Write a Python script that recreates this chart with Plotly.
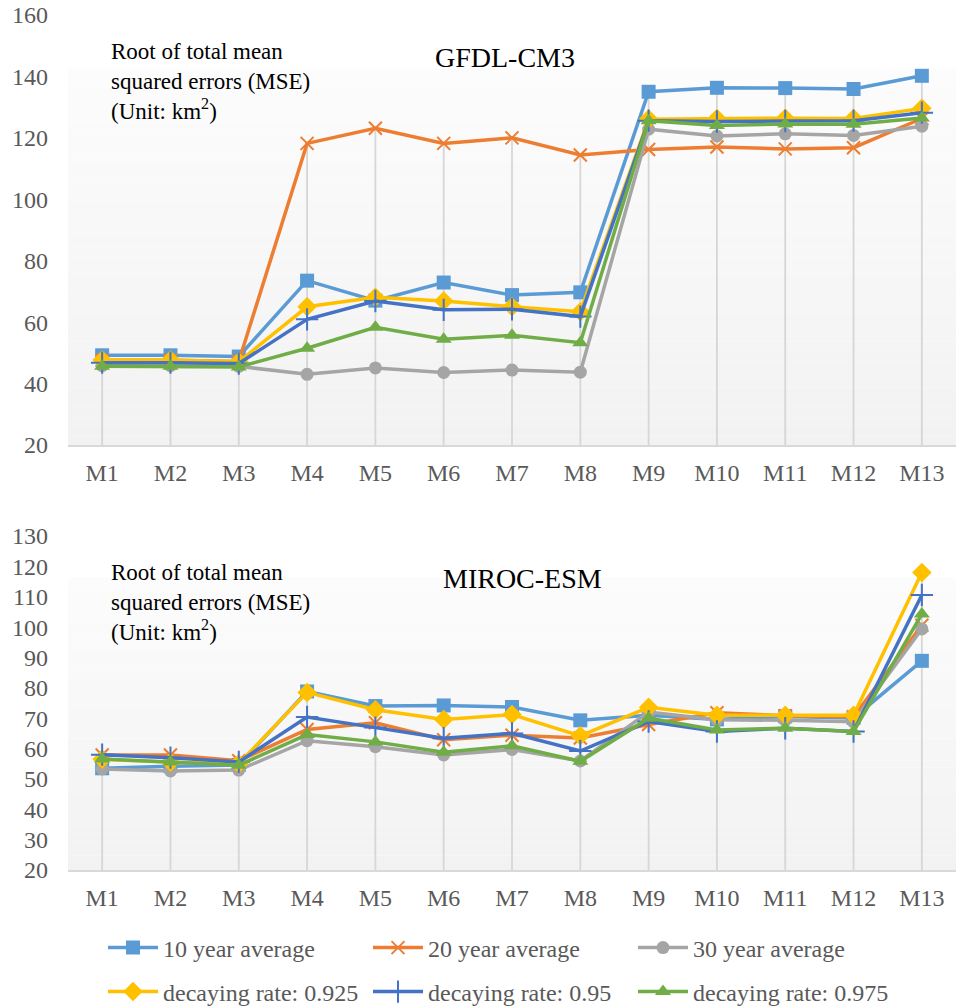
import plotly.graph_objects as go

# Categories (models)
months = ["M1", "M2", "M3", "M4", "M5", "M6", "M7", "M8", "M9", "M10", "M11", "M12", "M13"]

# GFDL-CM3 root MSE per method
gfdl_10yr = [49.2, 49.2, 48.8, 73.5, 67.0, 72.9, 68.8, 69.7, 135.0, 136.3, 136.2, 135.9, 140.2]
gfdl_20yr = [47.6, 47.6, 47.2, 118.2, 123.1, 118.2, 120.0, 114.4, 116.2, 117.0, 116.4, 116.8, 126.3]
gfdl_30yr = [45.8, 45.8, 45.6, 43.0, 45.1, 43.6, 44.4, 43.7, 122.8, 120.6, 121.3, 120.8, 123.8]
gfdl_d925 = [47.7, 47.7, 47.1, 65.0, 68.1, 66.9, 65.0, 63.4, 126.1, 126.3, 126.4, 126.3, 129.6]
gfdl_d950 = [46.8, 46.8, 46.5, 60.9, 66.9, 64.0, 64.2, 61.8, 125.6, 125.3, 125.5, 125.6, 128.2]
gfdl_d975 = [45.6, 45.6, 45.4, 51.5, 58.3, 54.4, 55.7, 53.3, 125.6, 124.0, 124.5, 124.4, 126.5]

# MIROC-ESM root MSE per method
miroc_10yr = [53.5, 54.2, 54.6, 78.8, 74.0, 74.2, 73.7, 69.3, 71.0, 69.6, 70.6, 70.1, 88.9]
miroc_20yr = [57.9, 57.9, 56.0, 66.3, 68.5, 62.9, 64.4, 63.5, 67.9, 71.8, 70.8, 70.5, 100.6]
miroc_30yr = [53.3, 52.6, 52.9, 62.6, 60.6, 57.9, 59.7, 55.9, 72.0, 69.5, 69.3, 68.8, 99.4]
miroc_d925 = [56.5, 55.5, 55.0, 78.5, 72.8, 69.6, 71.2, 64.2, 73.6, 71.0, 71.0, 71.0, 118.0]
miroc_d950 = [58.0, 57.0, 55.6, 70.4, 66.9, 63.4, 65.0, 59.2, 68.9, 65.6, 66.7, 65.6, 110.6]
miroc_d975 = [56.6, 55.6, 54.5, 64.6, 62.2, 58.8, 60.9, 55.8, 70.0, 66.1, 66.7, 65.6, 104.3]

series_names = ["10 year average", "20 year average", "30 year average",
                "decaying rate: 0.925", "decaying rate: 0.95", "decaying rate: 0.975"]
gfdl_series = [gfdl_10yr, gfdl_20yr, gfdl_30yr, gfdl_d925, gfdl_d950, gfdl_d975]
miroc_series = [miroc_10yr, miroc_20yr, miroc_30yr, miroc_d925, miroc_d950, miroc_d975]

gfdl_ticks = [20, 40, 60, 80, 100, 120, 140, 160]
miroc_ticks = [20, 30, 40, 50, 60, 70, 80, 90, 100, 110, 120, 130]

colors = ["#5B9BD5", "#ED7D31", "#A5A5A5", "#FFC000", "#4472C4", "#70AD47"]
symbols = ["square", "x-thin-open", "circle", "diamond", "cross-thin-open", "triangle-up"]
msizes = [14, 13, 13, 15, 16, 14]
legend_ids = ["legend", "legend", "legend", "legend2", "legend2", "legend2"]

SERIF = "Liberation Serif"
TICK_COLOR = "#595959"

fig = go.Figure()

panels = [
    ("x", "y", gfdl_series, gfdl_ticks, True),
    ("x2", "y2", miroc_series, miroc_ticks, False),
]

for xa, ya, series, ticks, show in panels:
    # drop lines from the axis up to the highest value in each category
    base = min(ticks)
    dx, dy = [], []
    for i, m in enumerate(months):
        top = max(s[i] for s in series)
        dx += [m, m, None]
        dy += [base, top, None]
    fig.add_trace(go.Scatter(x=dx, y=dy, mode="lines", xaxis=xa, yaxis=ya,
                             line=dict(color="#d6d6d6", width=1.8),
                             hoverinfo="skip", showlegend=False))
    for k, vals in enumerate(series):
        sym = symbols[k]
        open_sym = sym.endswith("open")
        fig.add_trace(go.Scatter(
            x=months, y=vals, name=series_names[k], mode="lines+markers",
            xaxis=xa, yaxis=ya, legendgroup=series_names[k],
            showlegend=show, legend=legend_ids[k],
            line=dict(color=colors[k], width=3.5),
            marker=dict(symbol=sym, size=msizes[k], color=colors[k],
                        line=dict(color=colors[k], width=2 if open_sym else 0)),
        ))

# soft vertical gradient behind each plot area
shapes = []
n_strips = 40
grad_top = 0.875
for xr, yr in [("x domain", "y domain"), ("x2 domain", "y2 domain")]:
    for i in range(n_strips):
        f0 = i / n_strips
        f1 = (i + 1) / n_strips
        t = (f0 + f1) / 2
        # bottom (#f2f2f2) to top (#fcfcfc)
        c = int(round(242 + (252 - 242) * t))
        shapes.append(dict(type="rect", xref=xr, yref=yr, x0=0, x1=1,
                           y0=f0 * grad_top, y1=f1 * grad_top,
                           fillcolor=f"rgb({c},{c},{c})", line=dict(width=0),
                           layer="below"))

axis_common = dict(showgrid=False, zeroline=False, ticks="",
                   tickfont=dict(family=SERIF, size=24, color=TICK_COLOR))
cat_range = [-0.5, len(months) - 0.5]
legend_font = dict(family=SERIF, size=24, color=TICK_COLOR)

fig.update_layout(
    width=956, height=1008,
    margin=dict(l=68, r=0, t=15, b=138),
    paper_bgcolor="white", plot_bgcolor="white",
    font=dict(family=SERIF),
    shapes=shapes,
    xaxis=dict(domain=[0, 1], anchor="y", range=cat_range, showline=True,
               linecolor="#d9d9d9", linewidth=2, ticklabelstandoff=5, **axis_common),
    yaxis=dict(domain=[0.4971, 1], anchor="x", range=[20, 160],
               tickvals=gfdl_ticks, showline=False, ticklabelstandoff=19,
               **axis_common),
    xaxis2=dict(domain=[0, 1], anchor="y2", range=cat_range, showline=True,
                linecolor="#d9d9d9", linewidth=2, ticklabelstandoff=5, **axis_common),
    yaxis2=dict(domain=[0, 0.3906], anchor="x2", range=[20, 130],
                tickvals=miroc_ticks, showline=False, ticklabelstandoff=19,
                **axis_common),
    legend=dict(orientation="h", xref="container", yref="container",
                x=103 / 956, y=1 - 948 / 1008, yanchor="middle", xanchor="left",
                entrywidth=200, itemwidth=50, bgcolor="rgba(0,0,0,0)",
                font=legend_font),
    legend2=dict(orientation="h", xref="container", yref="container",
                 x=103 / 956, y=1 - 992 / 1008, yanchor="middle", xanchor="left",
                 entrywidth=200, itemwidth=50, bgcolor="rgba(0,0,0,0)",
                 font=legend_font),
    showlegend=True,
)

unit_text = "Root of total mean<br>squared errors (MSE)<br>(Unit: km<sup>2</sup>)"
annos = [
    dict(xref="x domain", yref="y domain", x=0.046, y=0.948, text=unit_text,
         xanchor="left", yanchor="top", align="left", showarrow=False,
         font=dict(family=SERIF, size=23, color="black")),
    dict(xref="x domain", yref="y domain", x=0.4916, y=0.9, text="GFDL-CM3",
         xanchor="center", yanchor="middle", showarrow=False,
         font=dict(family=SERIF, size=28, color="black")),
    dict(xref="x2 domain", yref="y2 domain", x=0.046, y=0.935, text=unit_text,
         xanchor="left", yanchor="top", align="left", showarrow=False,
         font=dict(family=SERIF, size=23, color="black")),
    dict(xref="x2 domain", yref="y2 domain", x=0.512, y=0.874, text="MIROC-ESM",
         xanchor="center", yanchor="middle", showarrow=False,
         font=dict(family=SERIF, size=28, color="black")),
]
fig.update_layout(annotations=annos)

fig.write_html("out.html")
